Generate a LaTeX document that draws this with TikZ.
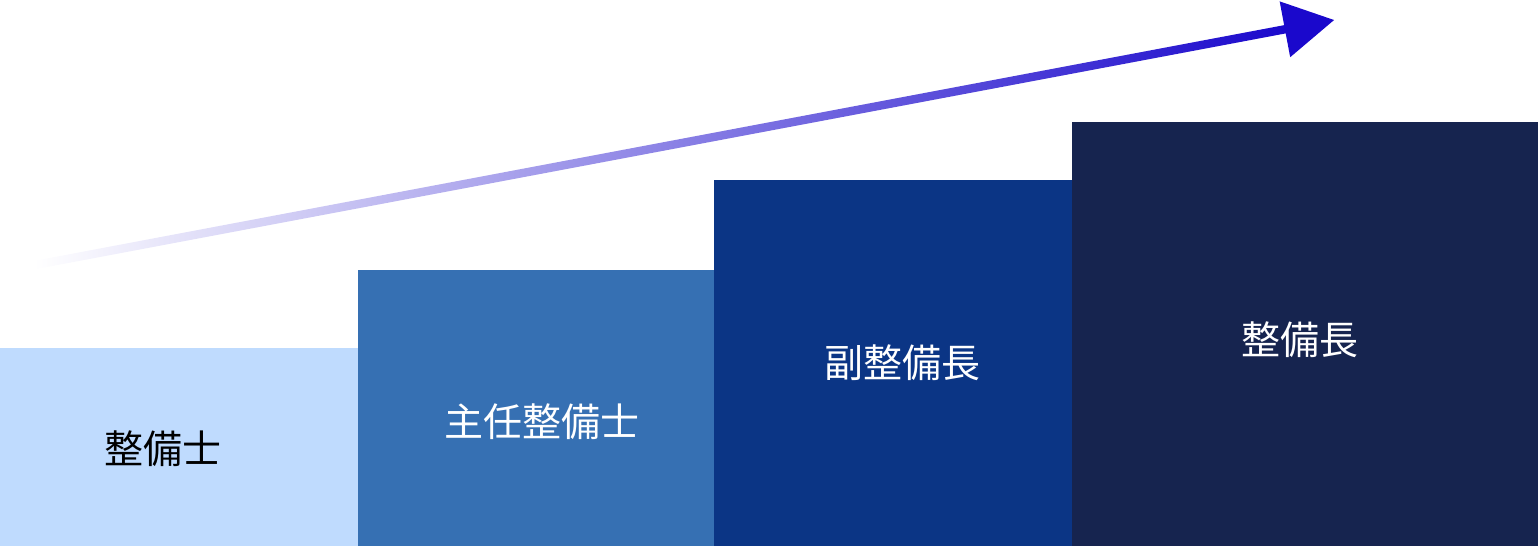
\documentclass[tikz,border=0pt]{standalone}
\usepackage{fontspec}
\setmainfont{Noto Sans CJK JP}
\definecolor{barA}{HTML}{BFDBFE}
\definecolor{barB}{HTML}{3670B3}
\definecolor{barC}{HTML}{0B3585}
\definecolor{barD}{HTML}{16244F}
\definecolor{arrowblue}{HTML}{1A08CC}
\tikzset{
  bar/.style={draw=none, inner sep=0pt, outer sep=0pt, anchor=south west},
  lbl/.style={inner sep=0pt, font=\fontsize{39}{42}\selectfont, text=white},
}
\begin{document}
\begin{tikzpicture}[x=1pt,y=1pt]
\useasboundingbox (0,0) rectangle (1538,546);
% bars
\node[bar, fill=barA, minimum width=358pt, minimum height=198pt] (b1) at (0,0) {};
\node[bar, fill=barB, minimum width=356pt, minimum height=276pt] (b2) at (358,0) {};
\node[bar, fill=barC, minimum width=358pt, minimum height=366pt] (b3) at (714,0) {};
\node[bar, fill=barD, minimum width=466pt, minimum height=424pt] (b4) at (1072,0) {};
% labels
\node[lbl, text=black] (t1) at (163,97) {整備士};
\node[lbl] (t2) at (542,124) {主任整備士};
\node[lbl] (t3) at (902,183) {副整備長};
\node[lbl] (t4) at (1300,206) {整備長};
% arrow
\coordinate (s) at (35,281);
\coordinate (e) at (1334,526);
\begin{scope}[shift={(s)}, rotate=10.68]
  \shade[left color=white, right color=arrowblue] (0,-4.2) rectangle (1274,4.2);
  \fill[arrowblue] (1272,-28.4) -- (1322,0) -- (1272,28.4) -- cycle;
\end{scope}
\end{tikzpicture}
\end{document}
